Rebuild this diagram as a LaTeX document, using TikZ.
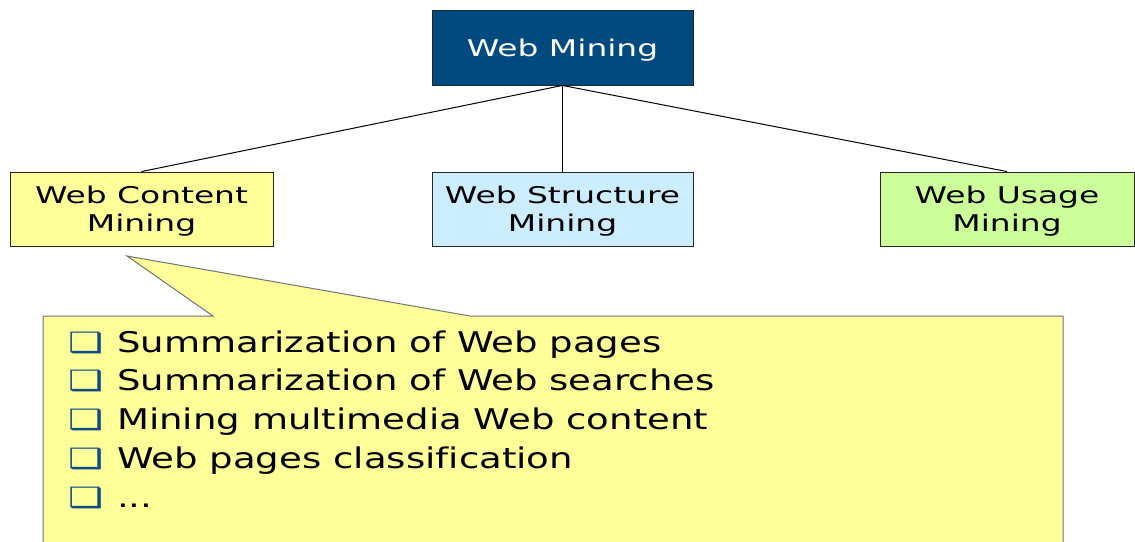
\documentclass[tikz,border=0pt]{standalone}
\usepackage{fontspec}
\setmainfont{DejaVu Sans}[FakeStretch=1.3, Ligatures=NoCommon]
\newfontfamily\boxfont{DejaVu Sans}[FakeStretch=1.43, Ligatures=NoCommon]
\newfontfamily\bulfont{DejaVu Sans}[FakeStretch=1.4]
\definecolor{wmblue}{RGB}{0,74,128}
\definecolor{wcyellow}{RGB}{255,255,153}
\definecolor{wsblue}{RGB}{204,236,255}
\definecolor{wugreen}{RGB}{204,255,153}
\definecolor{bulblue}{RGB}{15,75,135}
\newcommand{\bx}{\makebox[49pt][l]{\bulfont\fontsize{28}{28}\selectfont\color{bulblue}❑}}

\begin{document}
\begin{tikzpicture}[x=1pt,y=-1pt,
    mbox/.style={draw=black!85, line width=0.9pt, minimum height=74pt, inner sep=0pt,
      align=center, text depth=0pt, font=\boxfont\fontsize{23}{28}\selectfont},
    item/.style={anchor=base west, inner sep=0pt, font=\fontsize{28.5}{34}\selectfont}]
    \useasboundingbox (0,0) rectangle (1135,541);
    \clip (0,0) rectangle (1135,541);
    % top and second level
    \node[mbox, fill=wmblue, text=white, minimum width=261pt, minimum height=75pt] (wm) at (562.5,47.5) {Web Mining};
    \node[mbox, fill=wcyellow, minimum width=263pt] (wcm) at (141.5,209) {Web Content\\Mining};
    \node[mbox, fill=wsblue, minimum width=261pt] (wsm) at (562.5,209) {Web Structure\\Mining};
    \node[mbox, fill=wugreen, minimum width=254pt] (wum) at (1007,209) {Web Usage\\Mining};
    \draw[line width=1pt] (wm.south) -- (wcm.north);
    \draw[line width=1pt] (wm.south) -- (wsm.north);
    \draw[line width=1pt] (wm.south) -- (wum.north);
    % callout
    \coordinate (tip) at (127,256);
    \draw[fill=wcyellow, draw=black!55, line width=1pt]
      (43,560) -- (43,316) -- (213,316) -- (tip) -- (470,316) -- (1063,316) -- (1063,560) -- cycle;
    \node[item] (it1) at (68,352) {\bx Summarization of Web pages};
    \node[item] (it2) at (68,390.75) {\bx Summarization of Web searches};
    \node[item] (it3) at (68,429.5) {\bx Mining multimedia Web content};
    \node[item] (it4) at (68,468.25) {\bx Web pages classification};
    \node[item] (it5) at (68,507) {\bx ...};
\end{tikzpicture}
\end{document}
